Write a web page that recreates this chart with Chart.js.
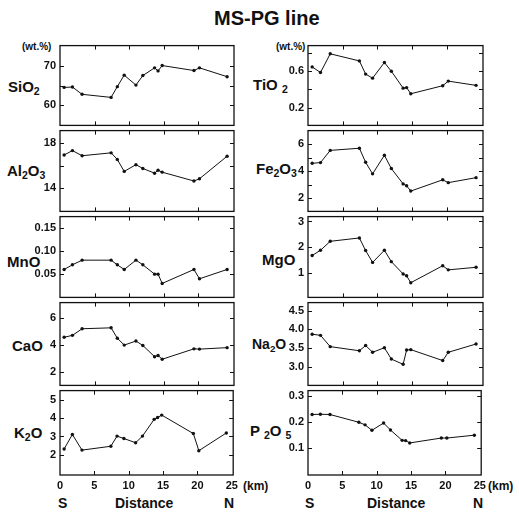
<!DOCTYPE html>
<html lang="en">
<head>
    <meta charset="UTF-8">
    <title>MS-PG line</title>
    <script src="https://cdn.jsdelivr.net/npm/chart.js"></script>
    <style>
        body {
            margin: 0;
            background: #fff;
            font-family: 'Liberation Sans', Arial, sans-serif;
            font-weight: bold;
            color: #111;
        }
        #wrap {
            position: relative;
            width: 519px;
            height: 513px;
            overflow: hidden;
        }
        canvas { position: absolute; }
        .lbl {
            position: absolute;
            line-height: 1;
            white-space: nowrap;
        }
        .lbl sub {
            font-size: 0.7em;
            vertical-align: -0.3em;
            line-height: 0;
        }
    </style>
</head>
<body>
<div id="wrap">
    <div class="lbl" style="left:214px;top:8px;font-size:20px;">MS-PG line</div>

    <div class="lbl" style="left:22px;top:42px;font-size:10px;">(wt.%)</div>
    <div class="lbl" style="left:276px;top:42px;font-size:10px;">(wt.%)</div>

    <div class="lbl" style="left:8px;top:79px;font-size:15px;">SiO<sub>2</sub></div>
    <div class="lbl" style="left:7px;top:163px;font-size:15px;">Al<sub>2</sub>O<sub>3</sub></div>
    <div class="lbl" style="left:7px;top:254px;font-size:15px;">MnO</div>
    <div class="lbl" style="left:12px;top:338px;font-size:15px;">CaO</div>
    <div class="lbl" style="left:14px;top:425px;font-size:15px;">K<sub>2</sub>O</div>

    <div class="lbl" style="left:253px;top:77px;font-size:15px;">TiO <sub>2</sub></div>
    <div class="lbl" style="left:256px;top:161px;font-size:15px;">Fe<sub>2</sub>O<sub>3</sub></div>
    <div class="lbl" style="left:262px;top:252px;font-size:15px;">MgO</div>
    <div class="lbl" style="left:252px;top:337px;font-size:14px;">Na<sub>2</sub>O</div>
    <div class="lbl" style="left:250px;top:423px;font-size:15px;">P <sub>2</sub>O <sub>5</sub></div>

    <div class="lbl" style="left:243px;top:480px;font-size:12px;">(km)</div>
    <div class="lbl" style="left:488px;top:480px;font-size:12px;">(km)</div>

    <div class="lbl" style="left:58px;top:496px;font-size:14px;">S</div>
    <div class="lbl" style="left:115px;top:496px;font-size:14px;">Distance</div>
    <div class="lbl" style="left:224px;top:496px;font-size:14px;">N</div>
    <div class="lbl" style="left:305px;top:496px;font-size:14px;">S</div>
    <div class="lbl" style="left:367px;top:496px;font-size:14px;">Distance</div>
    <div class="lbl" style="left:473px;top:496px;font-size:14px;">N</div>
</div>

<script>
    // sample positions along the line (km from S end)
    const distance = [0.6, 1.8, 3.2, 7.4, 8.3, 9.3, 11.0, 12.0, 13.7, 14.2, 14.8, 19.4, 20.2, 24.2];

    // oxides, wt.%
    const sio2  = [64.5, 64.6, 62.7, 61.9, 64.7, 67.7, 65.1, 67.6, 69.6, 68.8, 70.2, 68.9, 69.6, 67.3];
    const al2o3 = [16.97, 17.36, 16.9, 17.16, 16.57, 15.5, 16.1, 15.76, 15.34, 15.6, 15.43, 14.64, 14.84, 16.86];
    const mno   = [0.06, 0.07, 0.08, 0.08, 0.07, 0.06, 0.08, 0.07, 0.05, 0.05, 0.03, 0.06, 0.04, 0.06];
    const cao   = [4.55, 4.69, 5.18, 5.25, 4.48, 3.97, 4.27, 3.94, 3.11, 3.2, 2.92, 3.69, 3.67, 3.78];
    const k2o   = [2.32, 3.11, 2.26, 2.47, 3.02, 2.89, 2.66, 3.02, 3.93, 4.03, 4.16, 3.16, 2.23, 3.19];
    const tio2  = [0.644, 0.583, 0.786, 0.709, 0.566, 0.522, 0.692, 0.597, 0.414, 0.42, 0.353, 0.44, 0.49, 0.444];
    const fe2o3 = [4.58, 4.63, 5.53, 5.69, 4.65, 3.8, 5.17, 4.19, 3.06, 2.92, 2.53, 3.36, 3.15, 3.52];
    const mgo   = [1.68, 1.88, 2.23, 2.36, 1.87, 1.41, 1.88, 1.44, 0.96, 0.89, 0.62, 1.28, 1.12, 1.22];
    const na2o  = [3.87, 3.84, 3.54, 3.43, 3.57, 3.39, 3.51, 3.21, 3.07, 3.45, 3.46, 3.17, 3.39, 3.61];
    const p2o5  = [0.23, 0.231, 0.23, 0.2, 0.19, 0.169, 0.197, 0.17, 0.13, 0.129, 0.12, 0.139, 0.139, 0.15];

    // axis ticks
    const xTicks = [0, 5, 10, 15, 20, 25];
    const sio2Ticks  = [60, 70];
    const al2o3Ticks = [14, 18];
    const mnoTicks   = [0.05, 0.10, 0.15];
    const caoTicks   = [2, 4, 6];
    const k2oTicks   = [2, 3, 4, 5];
    const tio2Ticks  = [0.2, 0.6];
    const fe2o3Ticks = [2, 4, 6];
    const mgoTicks   = [1, 2, 3];
    const na2oTicks  = [3.0, 3.5, 4.0, 4.5];
    const p2o5Ticks  = [0.1, 0.2, 0.3];

    const ink = '#111';
    const tickFont = { family: "'Liberation Sans', Arial, sans-serif", weight: 'bold', size: 11 };

    // box around each panel + small inward tick marks on all sides
    const framePlugin = {
        id: 'frame',
        afterDraw(chart, args, opts) {
            const { ctx, chartArea: a, scales: { x, y } } = chart;
            ctx.save();
            ctx.strokeStyle = ink;
            ctx.lineWidth = 1.3;
            ctx.strokeRect(a.left, a.top, a.right - a.left, a.bottom - a.top);
            ctx.lineWidth = 1;
            ctx.beginPath();
            xTicks.slice(1, -1).forEach(v => {
                const px = Math.round(x.getPixelForValue(v)) + 0.5;
                ctx.moveTo(px, a.bottom); ctx.lineTo(px, a.bottom - 4);
                ctx.moveTo(px, a.top); ctx.lineTo(px, a.top + 4);
            });
            opts.marks.forEach(v => {
                const py = Math.round(y.getPixelForValue(v)) + 0.5;
                ctx.moveTo(a.left, py); ctx.lineTo(a.left + 4, py);
                ctx.moveTo(a.right, py); ctx.lineTo(a.right - 4, py);
            });
            ctx.stroke();
            ctx.restore();
        }
    };

    const panels = [
        { vals: sio2,  col: 0, y0: 43,  y1: 128, min: 54.6, max: 75.4, ticks: sio2Ticks,  marks: [60, 65, 70], dec: 0 },
        { vals: al2o3, col: 0, y0: 128, y1: 214, min: 11.92, max: 19.15, ticks: al2o3Ticks, marks: [14, 16, 18], dec: 0 },
        { vals: mno,   col: 0, y0: 214, y1: 300, min: 0, max: 0.1736, ticks: mnoTicks,   marks: mnoTicks, dec: 2 },
        { vals: cao,   col: 0, y0: 300, y1: 388, min: 0.98, max: 7.12, ticks: caoTicks,   marks: caoTicks, dec: 0 },
        { vals: k2o,   col: 0, y0: 388, y1: 475, min: 0.91, max: 5.49, ticks: k2oTicks,   marks: k2oTicks, dec: 0, bottom: true },
        { vals: tio2,  col: 1, y0: 43,  y1: 128, min: 0.01, max: 0.875, ticks: tio2Ticks, marks: [0.2, 0.4, 0.6, 0.8], dec: 1 },
        { vals: fe2o3, col: 1, y0: 128, y1: 214, min: 1.03, max: 6.99, ticks: fe2o3Ticks, marks: [2, 3, 4, 5, 6], dec: 0 },
        { vals: mgo,   col: 1, y0: 214, y1: 300, min: 0.05, max: 3.19, ticks: mgoTicks,   marks: mgoTicks, dec: 0 },
        { vals: na2o,  col: 1, y0: 300, y1: 388, min: 2.51, max: 4.71, ticks: na2oTicks,  marks: na2oTicks, dec: 1 },
        { vals: p2o5,  col: 1, y0: 388, y1: 475, min: -0.004, max: 0.3225, ticks: p2o5Ticks, marks: p2o5Ticks, dec: 1, bottom: true }
    ];

    const wrap = document.getElementById('wrap');

    panels.forEach(p => {
        const padTop = 8;
        const padBottom = p.bottom ? 0 : 8;
        const axisH = p.bottom ? 22 : 0;
        const canvasLeft = p.col === 0 ? 0 : 248;
        const plotRight = p.col === 0 ? 234 : 483;
        const canvasW = 242;
        const canvasH = (p.y1 - p.y0) + padTop + padBottom + axisH;

        const cv = document.createElement('canvas');
        cv.width = canvasW;
        cv.height = canvasH;
        cv.style.left = canvasLeft + 'px';
        cv.style.top = (p.y0 - padTop) + 'px';
        cv.style.width = canvasW + 'px';
        cv.style.height = canvasH + 'px';
        wrap.appendChild(cv);

        new Chart(cv.getContext('2d'), {
            type: 'line',
            data: {
                datasets: [{
                    data: distance.map((d, i) => ({ x: d, y: p.vals[i] })),
                    borderColor: ink,
                    borderWidth: 1,
                    pointRadius: 1.7,
                    pointBorderWidth: 0,
                    pointBackgroundColor: ink,
                    tension: 0
                }]
            },
            options: {
                responsive: false,
                animation: false,
                events: [],
                layout: { padding: { top: padTop, bottom: padBottom, left: 0, right: canvasLeft + canvasW - plotRight } },
                plugins: {
                    legend: { display: false },
                    tooltip: { enabled: false },
                    frame: { marks: p.marks }
                },
                scales: {
                    x: {
                        type: 'linear',
                        min: 0,
                        max: 25.2,
                        display: !!p.bottom,
                        grid: { display: false, drawTicks: false },
                        border: { display: false },
                        afterBuildTicks: s => { s.ticks = xTicks.map(v => ({ value: v })); },
                        afterFit: s => { s.height = axisH; },
                        ticks: {
                            font: tickFont,
                            color: ink,
                            padding: 4,
                            autoSkip: false,
                            maxRotation: 0,
                            callback: v => String(v)
                        }
                    },
                    y: {
                        type: 'linear',
                        min: p.min,
                        max: p.max,
                        grid: { display: false, drawTicks: false },
                        border: { display: false },
                        afterBuildTicks: s => { s.ticks = p.ticks.map(v => ({ value: v })); },
                        afterFit: s => { s.width = 60; },
                        ticks: {
                            font: tickFont,
                            color: ink,
                            padding: 4,
                            autoSkip: false,
                            callback: v => Number(v).toFixed(p.dec)
                        }
                    }
                }
            },
            plugins: [framePlugin]
        });
    });
</script>
</body>
</html>
